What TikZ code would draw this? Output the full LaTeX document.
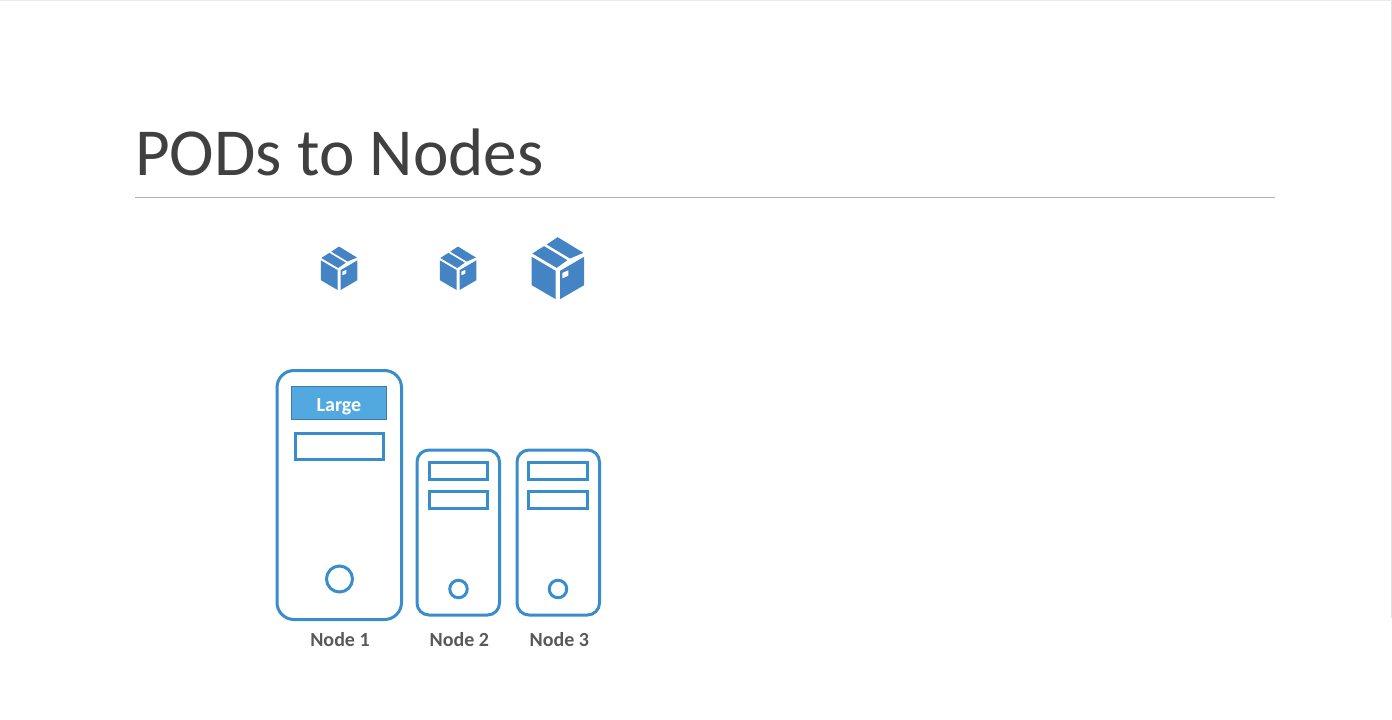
\documentclass[tikz,border=0pt]{standalone}
\usepackage{fontspec}
\setmainfont{Carlito}
\definecolor{boxblue}{HTML}{4484C4}
\definecolor{srvblue}{HTML}{3A8DCB}
\definecolor{fillblue}{HTML}{52A9E0}
\definecolor{edgeblue}{HTML}{3F7CA8}
\definecolor{titlegrey}{HTML}{404040}
\definecolor{labelgrey}{HTML}{595959}
\tikzset{
  x=1pt,y=-1pt,
  server/.style={draw=srvblue,line width=3pt,fill=white},
  slot/.style={draw=srvblue,line width=3pt,fill=white,inner sep=0pt},
  led/.style={draw=srvblue,line width=3pt,circle,inner sep=0pt},
  nodelabel/.style={text=labelgrey,font=\fontsize{20}{22}\selectfont\bfseries,inner sep=0pt},
  pics/cargo/.style={code={
    \begin{scope}[x=#1pt,y=-#1pt]
    \fill[boxblue] (-78,-35) -- (-6,7) -- (-6,92) -- (-78,50) -- cycle;
    \fill[boxblue,even odd rule] (7,7) -- (79,-35) -- (79,50) -- (7,92) -- cycle
      (14,13) -- (32,5) -- (32,22) -- (14,30) -- cycle;
    \fill[boxblue] (-76,-45) -- (-41,-67) -- (29,-25) -- (-3,-2) -- cycle;
    \fill[boxblue] (-33,-72) -- (0,-94) -- (77,-47) -- (37,-30) -- cycle;
    \end{scope}
  }}
}
\begin{document}
\begin{tikzpicture}
\useasboundingbox (0,0) rectangle (1392,720);
\fill[white] (0,0) rectangle (1392,720);
\coordinate (edgeT) at (1391.5,0);
\coordinate (edgeB) at (1391.5,618);
\draw[black!12,line width=0.8pt] (edgeT) -- (edgeB);
\coordinate (topL) at (0,0.4);
\coordinate (topR) at (1392,0.4);
\draw[black!8,line width=0.8pt] (topL) -- (topR);

\node[anchor=base west,inner sep=0pt,text=titlegrey,font=\fontsize{67.2}{70}\selectfont] (title) at (135,175) {PODs to Nodes};
\coordinate (ruleL) at (135,197.5);
\coordinate (ruleR) at (1275,197.5);
\draw[black!30,line width=1.1pt] (ruleL) -- (ruleR);

\pic (cargoA) at (339,268.5) {cargo=0.2333};
\pic (cargoB) at (458,268.5) {cargo=0.2333};
\pic (cargoC) at (557.7,268.5) {cargo=0.3333};

% Node 1
\draw[server,rounded corners=17pt] (277,370.5) rectangle (401.5,619.5);
\node[draw=edgeblue,fill=fillblue,line width=1.5pt,minimum width=95pt,minimum height=33pt,inner sep=0pt,text=white,font=\fontsize{20}{22}\selectfont\bfseries,text height=21pt,text depth=4pt] (large) at (339,403) {Large};
\node[slot,minimum width=88.5pt,minimum height=26pt] (slotA) at (339.5,446) {};
\node[led,minimum size=26pt] (ledA) at (339.5,579) {};
\node[nodelabel] (labA) at (340,640) {Node 1};

% Node 2
\draw[server,rounded corners=12pt] (417,450) rectangle (499.5,615);
\node[slot,minimum width=58.5pt,minimum height=17pt] (slotB1) at (458.5,471) {};
\node[slot,minimum width=58.5pt,minimum height=17pt] (slotB2) at (458.5,500) {};
\node[led,minimum size=17.5pt] (ledB) at (458.5,589) {};
\node[nodelabel] (labB) at (459.3,640) {Node 2};

% Node 3
\draw[server,rounded corners=12pt] (517,450) rectangle (599.5,615);
\node[slot,minimum width=58.5pt,minimum height=17pt] (slotC1) at (558,471) {};
\node[slot,minimum width=58.5pt,minimum height=17pt] (slotC2) at (558,500) {};
\node[led,minimum size=17.5pt] (ledC) at (558,589) {};
\node[nodelabel] (labC) at (559.3,640) {Node 3};
\end{tikzpicture}
\end{document}
